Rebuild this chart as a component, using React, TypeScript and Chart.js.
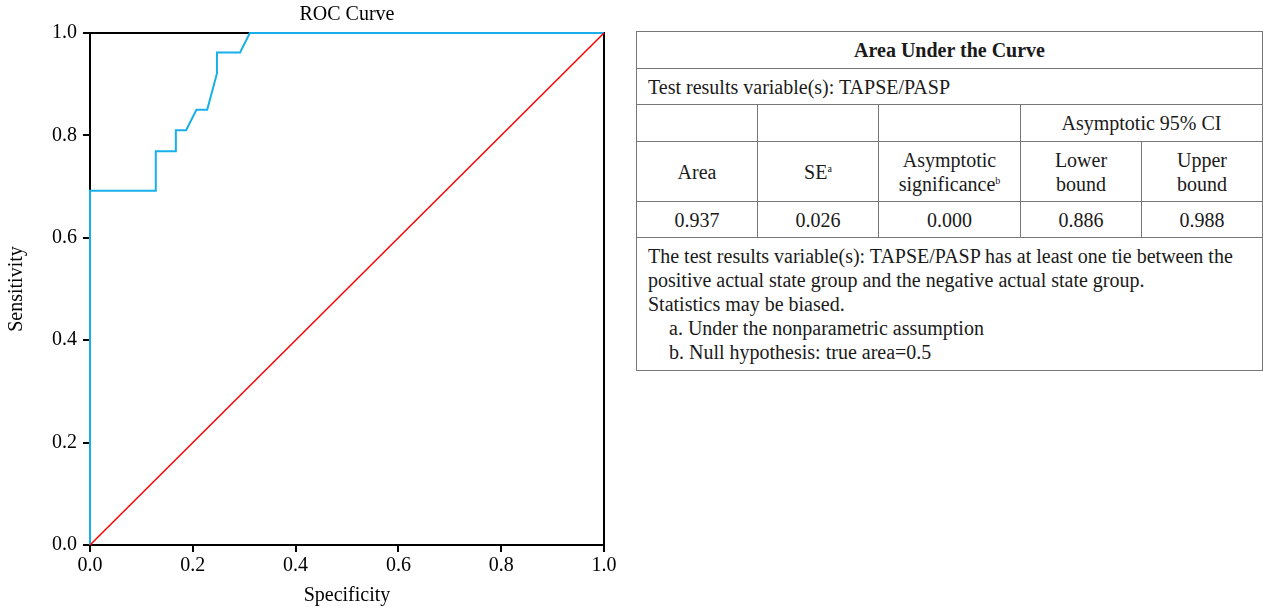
import React, { useEffect, useRef } from "react";
import { Chart, registerables } from "chart.js";

Chart.register(...registerables);

// ROC curve points (x = "Specificity" axis as labelled, y = Sensitivity)
const rocX = [0, 0, 0.128, 0.128, 0.167, 0.167, 0.187, 0.207, 0.228, 0.247, 0.247, 0.292, 0.311, 1];
const rocY = [0, 0.692, 0.692, 0.769, 0.769, 0.810, 0.810, 0.850, 0.850, 0.921, 0.962, 0.962, 1, 1];
const refX = [0, 1];
const refY = [0, 1];
const tickValues = [0, 0.2, 0.4, 0.6, 0.8, 1.0];

const chartTitle = "ROC Curve";
const xTitle = "Specificity";
const yTitle = "Sensitivity";

const tableTitle = "Area Under the Curve";
const testVar = "Test results variable(s): TAPSE/PASP";
const aucValues = ["0.937", "0.026", "0.000", "0.886", "0.988"];
const footLines = [
  "The test results variable(s): TAPSE/PASP has at least one tie between the positive actual state group and the negative actual state group.",
  "Statistics may be biased.",
];
const footNotes = ["a. Under the nonparametric assumption", "b. Null hypothesis: true area=0.5"];

const SERIF = "'Liberation Serif', 'Times New Roman', serif";
const FS = 20;

const framePlugin = {
  id: "frame",
  beforeDatasetsDraw(chart: any) {
    const { ctx, chartArea } = chart;
    ctx.save();
    ctx.strokeStyle = "#000";
    ctx.lineWidth = 2;
    ctx.strokeRect(chartArea.left, chartArea.top, chartArea.right - chartArea.left, chartArea.bottom - chartArea.top);
    ctx.restore();
  },
};

function RocChart() {
  const ref = useRef<HTMLCanvasElement>(null);
  useEffect(() => {
    if (!ref.current) return;
    const chart = new Chart(ref.current, {
      type: "scatter",
      data: {
        datasets: [
          {
            label: "Reference",
            data: refX.map((x, i) => ({ x, y: refY[i] })),
            showLine: true,
            borderColor: "#ff0000",
            borderWidth: 1.5,
            pointRadius: 0,
            clip: false,
          },
          {
            label: "TAPSE/PASP",
            data: rocX.map((x, i) => ({ x, y: rocY[i] })),
            showLine: true,
            borderColor: "#17b0ea",
            borderWidth: 2,
            pointRadius: 0,
            clip: false,
          },
        ],
      },
      options: {
        animation: false,
        responsive: false,
        layout: { padding: { left: 0, right: 26, top: 0, bottom: 2 } },
        plugins: {
          legend: { display: false },
          tooltip: { enabled: false },
          title: {
            display: true,
            text: chartTitle,
            fullSize: false,
            color: "#000",
            font: { family: SERIF, size: FS, weight: "normal" },
            padding: { top: 3, bottom: 6 },
          },
        },
        scales: {
          x: {
            type: "linear",
            min: 0,
            max: 1,
            afterBuildTicks: (s: any) => {
              s.ticks = tickValues.map((v) => ({ value: v }));
            },
            afterFit: (s: any) => {
              s.height = 64;
            },
            ticks: {
              color: "#000",
              font: { family: SERIF, size: FS },
              padding: 2,
              maxRotation: 0,
              callback: (v: any) => Number(v).toFixed(1),
            },
            grid: { drawOnChartArea: false, drawTicks: true, tickLength: 7, color: "#000", lineWidth: 2 },
            border: { display: true, color: "#000", width: 2 },
            title: {
              display: true,
              text: xTitle,
              color: "#000",
              font: { family: SERIF, size: FS },
              padding: { top: 0, bottom: 1 },
            },
          },
          y: {
            type: "linear",
            min: 0,
            max: 1,
            afterBuildTicks: (s: any) => {
              s.ticks = tickValues.map((v) => ({ value: v }));
            },
            afterFit: (s: any) => {
              s.width = 90;
            },
            ticks: {
              color: "#000",
              font: { family: SERIF, size: FS },
              padding: 6,
              callback: (v: any) => Number(v).toFixed(1),
            },
            grid: { drawOnChartArea: false, drawTicks: true, tickLength: 7, color: "#000", lineWidth: 2 },
            border: { display: true, color: "#000", width: 2 },
            title: {
              display: true,
              text: yTitle,
              color: "#000",
              font: { family: SERIF, size: FS },
              padding: { top: 5, bottom: 0 },
            },
          },
        },
      },
      plugins: [framePlugin],
    } as any);
    return () => chart.destroy();
  }, []);
  return <canvas ref={ref} width={630} height={611} style={{ display: "block" }} />;
}

const cell: React.CSSProperties = {
  border: "1px solid #777",
  textAlign: "center",
  verticalAlign: "middle",
  padding: "0 4px",
  lineHeight: "24px",
};

const supStyle: React.CSSProperties = { fontSize: 10, verticalAlign: "7px", lineHeight: 0 };

function AucTable() {
  return (
    <table
      style={{
        position: "absolute",
        left: 636,
        top: 31,
        width: 627,
        borderCollapse: "collapse",
        tableLayout: "fixed",
        fontFamily: SERIF,
        fontSize: FS,
        color: "#1a1a1a",
        border: "1px solid #333",
      }}
    >
      <colgroup>
        <col style={{ width: 121 }} />
        <col style={{ width: 121 }} />
        <col style={{ width: 142 }} />
        <col style={{ width: 121 }} />
        <col style={{ width: 121 }} />
      </colgroup>
      <tbody>
        <tr style={{ height: 37 }}>
          <td colSpan={5} style={{ ...cell, fontWeight: "bold" }}>{tableTitle}</td>
        </tr>
        <tr style={{ height: 36 }}>
          <td colSpan={5} style={{ ...cell, textAlign: "left", paddingLeft: 11 }}>{testVar}</td>
        </tr>
        <tr style={{ height: 37 }}>
          <td style={cell}></td>
          <td style={cell}></td>
          <td style={cell}></td>
          <td colSpan={2} style={cell}>Asymptotic 95% CI</td>
        </tr>
        <tr style={{ height: 60 }}>
          <td style={cell}>Area</td>
          <td style={cell}>
            SE<sup style={supStyle}>a</sup>
          </td>
          <td style={cell}>
            Asymptotic
            <br />
            significance<sup style={supStyle}>b</sup>
          </td>
          <td style={cell}>
            Lower
            <br />
            bound
          </td>
          <td style={cell}>
            Upper
            <br />
            bound
          </td>
        </tr>
        <tr style={{ height: 36 }}>
          {aucValues.map((v, i) => (
            <td key={i} style={cell}>{v}</td>
          ))}
        </tr>
        <tr style={{ height: 133 }}>
          <td colSpan={5} style={{ ...cell, textAlign: "left", padding: "6px 10px 6px 11px", verticalAlign: "top" }}>
            {footLines.map((l, i) => (
              <div key={i}>{l}</div>
            ))}
            {footNotes.map((l, i) => (
              <div key={"n" + i} style={{ paddingLeft: 21 }}>{l}</div>
            ))}
          </td>
        </tr>
      </tbody>
    </table>
  );
}

export default function App() {
  return (
    <div style={{ position: "absolute", left: 0, top: 0, width: 1263, height: 611, background: "#fff" }}>
      <RocChart />
      <AucTable />
    </div>
  );
}
